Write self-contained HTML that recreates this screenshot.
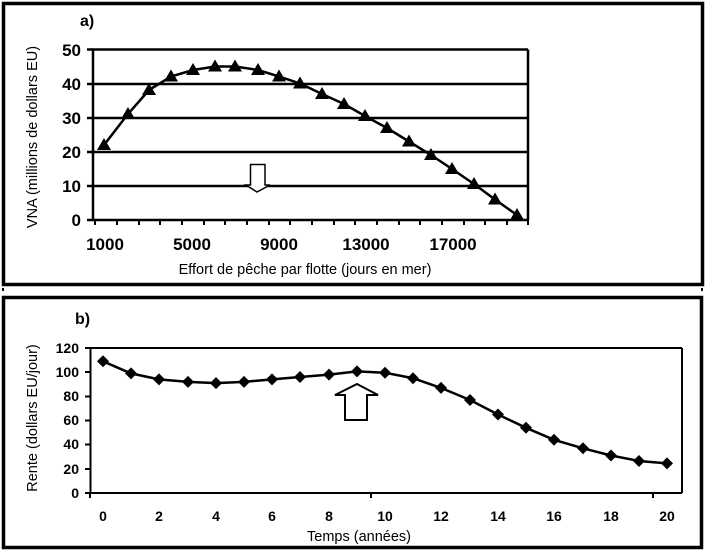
<!DOCTYPE html>
<html><head><meta charset="utf-8"><style>
html,body{margin:0;padding:0;background:#fff;}
svg{display:block;}
text{font-family:"Liberation Sans",sans-serif;fill:#000;}
</style></head><body>
<svg width="706" height="552" viewBox="0 0 706 552" xmlns="http://www.w3.org/2000/svg">
<rect x="3.5" y="3.5" width="699" height="281" fill="none" stroke="#000" stroke-width="3.5"/>
<rect x="3.5" y="297.5" width="698" height="250" fill="none" stroke="#000" stroke-width="3.5"/>
<rect x="2" y="288" width="2" height="3" fill="#000"/>
<rect x="701" y="288" width="2" height="3" fill="#000"/>

<text x="80" y="26" font-size="16" font-weight="bold">a)</text>
<g stroke="#000" stroke-width="2.5">
<line x1="92" y1="49.5" x2="528" y2="49.5"/>
<line x1="528" y1="49.5" x2="528" y2="220"/>
<line x1="92" y1="84" x2="528" y2="84"/>
<line x1="92" y1="118" x2="528" y2="118"/>
<line x1="92" y1="152" x2="528" y2="152"/>
<line x1="92" y1="186" x2="528" y2="186"/>
<line x1="92" y1="220" x2="528" y2="220"/>
<line x1="93" y1="49" x2="93" y2="221"/>
<line x1="87" y1="49.5" x2="93" y2="49.5"/>
<line x1="87" y1="84" x2="93" y2="84"/>
<line x1="87" y1="118" x2="93" y2="118"/>
<line x1="87" y1="152" x2="93" y2="152"/>
<line x1="87" y1="186" x2="93" y2="186"/>
<line x1="87" y1="220" x2="93" y2="220"/>
</g>
<g stroke="#000" stroke-width="2">
<line x1="95" y1="220" x2="95" y2="225"/><line x1="117" y1="220" x2="117" y2="225"/><line x1="139" y1="220" x2="139" y2="225"/><line x1="160" y1="220" x2="160" y2="225"/><line x1="182" y1="220" x2="182" y2="225"/><line x1="204" y1="220" x2="204" y2="225"/><line x1="225" y1="220" x2="225" y2="225"/><line x1="247" y1="220" x2="247" y2="225"/><line x1="269" y1="220" x2="269" y2="225"/><line x1="290" y1="220" x2="290" y2="225"/><line x1="312" y1="220" x2="312" y2="225"/><line x1="334" y1="220" x2="334" y2="225"/><line x1="355" y1="220" x2="355" y2="225"/><line x1="377" y1="220" x2="377" y2="225"/><line x1="399" y1="220" x2="399" y2="225"/><line x1="420" y1="220" x2="420" y2="225"/><line x1="442" y1="220" x2="442" y2="225"/><line x1="464" y1="220" x2="464" y2="225"/><line x1="485" y1="220" x2="485" y2="225"/><line x1="507" y1="220" x2="507" y2="225"/><line x1="528" y1="220" x2="528" y2="225"/>
</g>
<g font-size="17" font-weight="bold" text-anchor="end">
<text x="81" y="56">50</text><text x="81" y="90">40</text><text x="81" y="124">30</text>
<text x="81" y="158">20</text><text x="81" y="192">10</text><text x="81" y="226">0</text>
</g>
<g font-size="17" font-weight="bold" text-anchor="middle">
<text x="105" y="250">1000</text><text x="192" y="250">5000</text><text x="279" y="250">9000</text>
<text x="366" y="250">13000</text><text x="453" y="250">17000</text>
</g>
<text x="305" y="274" font-size="14.5" text-anchor="middle">Effort de pêche par flotte (jours en mer)</text>
<text transform="translate(37,137) rotate(-90)" font-size="14.5" text-anchor="middle">VNA (millions de dollars EU)</text>
<polyline fill="none" stroke="#000" stroke-width="2.5" points="104,145 128,114 149,90 171,76.5 193,70 215,66.5 235,66.5 258,70 279,76.5 300,83.5 322,94 344,104 365,116 387,128 409,141.5 431,155 452,169 474,184 495,199.5 517,215"/>
<g fill="#000">
<path d="M104,138 l-7,12 h14z"/><path d="M128,107 l-7,12 h14z"/><path d="M149,83 l-7,12 h14z"/><path d="M171,69.5 l-7,12 h14z"/><path d="M193,63 l-7,12 h14z"/><path d="M215,59.5 l-7,12 h14z"/><path d="M235,59.5 l-7,12 h14z"/><path d="M258,63 l-7,12 h14z"/><path d="M279,69.5 l-7,12 h14z"/><path d="M300,76.5 l-7,12 h14z"/><path d="M322,87 l-7,12 h14z"/><path d="M344,97 l-7,12 h14z"/><path d="M365,109 l-7,12 h14z"/><path d="M387,121 l-7,12 h14z"/><path d="M409,134.5 l-7,12 h14z"/><path d="M431,148 l-7,12 h14z"/><path d="M452,162 l-7,12 h14z"/><path d="M474,177 l-7,12 h14z"/><path d="M495,192.5 l-7,12 h14z"/><path d="M517,208 l-7,12 h14z"/>
</g>
<path d="M250.5,164.5 H265 V185 H270 L257,192 L246,185 H250.5 Z" fill="#fff" stroke="#000" stroke-width="1.5"/>

<text x="75" y="324" font-size="16" font-weight="bold">b)</text>
<g stroke="#000" stroke-width="2">
<line x1="90" y1="348" x2="682" y2="348"/>
<line x1="682" y1="348" x2="682" y2="493"/>
<line x1="90.5" y1="347" x2="90.5" y2="494"/>
<line x1="89" y1="493" x2="682" y2="493"/>
</g>
<g stroke="#000" stroke-width="2">
<line x1="85" y1="348" x2="90" y2="348"/><line x1="85" y1="372" x2="90" y2="372"/><line x1="85" y1="396.5" x2="90" y2="396.5"/><line x1="85" y1="420.5" x2="90" y2="420.5"/><line x1="85" y1="444.5" x2="90" y2="444.5"/><line x1="85" y1="469" x2="90" y2="469"/><line x1="85" y1="493" x2="90" y2="493"/>
<line x1="90" y1="493" x2="90" y2="498"/><line x1="371" y1="493" x2="371" y2="498"/><line x1="653" y1="493" x2="653" y2="498"/>
</g>
<g font-size="14" font-weight="bold" text-anchor="end">
<text x="79" y="353">120</text><text x="79" y="377">100</text><text x="79" y="401">80</text>
<text x="79" y="425">60</text><text x="79" y="449">40</text><text x="79" y="474">20</text><text x="79" y="498">0</text>
</g>
<g font-size="14" font-weight="bold" text-anchor="middle">
<text x="103" y="521">0</text><text x="159" y="521">2</text><text x="216" y="521">4</text><text x="272" y="521">6</text>
<text x="329" y="521">8</text><text x="385" y="521">10</text><text x="441" y="521">12</text><text x="498" y="521">14</text>
<text x="554" y="521">16</text><text x="611" y="521">18</text><text x="667" y="521">20</text>
</g>
<text x="359" y="541" font-size="14.5" text-anchor="middle">Temps (années)</text>
<text transform="translate(37,418) rotate(-90)" font-size="14.5" text-anchor="middle">Rente (dollars EU/jour)</text>
<polyline fill="none" stroke="#000" stroke-width="2.5" points="103,361.3 131,373.4 159,379.4 188,381.9 216,383.1 244,381.9 272,379.4 300,377 329,374.6 357,371.4 385,372.8 413,378.2 441,387.9 470,400 498,414.5 526,427.8 554,439.8 583,448.3 611,455.5 639,461 667,463.4"/>
<g fill="#000">
<path d="M103,355.3 l6,6 l-6,6 l-6,-6z"/><path d="M131,367.4 l6,6 l-6,6 l-6,-6z"/><path d="M159,373.4 l6,6 l-6,6 l-6,-6z"/><path d="M188,375.9 l6,6 l-6,6 l-6,-6z"/><path d="M216,377.1 l6,6 l-6,6 l-6,-6z"/><path d="M244,375.9 l6,6 l-6,6 l-6,-6z"/><path d="M272,373.4 l6,6 l-6,6 l-6,-6z"/><path d="M300,371 l6,6 l-6,6 l-6,-6z"/><path d="M329,368.6 l6,6 l-6,6 l-6,-6z"/><path d="M357,365.4 l6,6 l-6,6 l-6,-6z"/><path d="M385,366.8 l6,6 l-6,6 l-6,-6z"/><path d="M413,372.2 l6,6 l-6,6 l-6,-6z"/><path d="M441,381.9 l6,6 l-6,6 l-6,-6z"/><path d="M470,394 l6,6 l-6,6 l-6,-6z"/><path d="M498,408.5 l6,6 l-6,6 l-6,-6z"/><path d="M526,421.8 l6,6 l-6,6 l-6,-6z"/><path d="M554,433.8 l6,6 l-6,6 l-6,-6z"/><path d="M583,442.3 l6,6 l-6,6 l-6,-6z"/><path d="M611,449.5 l6,6 l-6,6 l-6,-6z"/><path d="M639,455 l6,6 l-6,6 l-6,-6z"/><path d="M667,457.4 l6,6 l-6,6 l-6,-6z"/>
</g>
<path d="M357,384 L378,395 H367 V420 H345 V395 H335 Z" fill="#fff" stroke="#000" stroke-width="2"/>
</svg>
</body></html>
